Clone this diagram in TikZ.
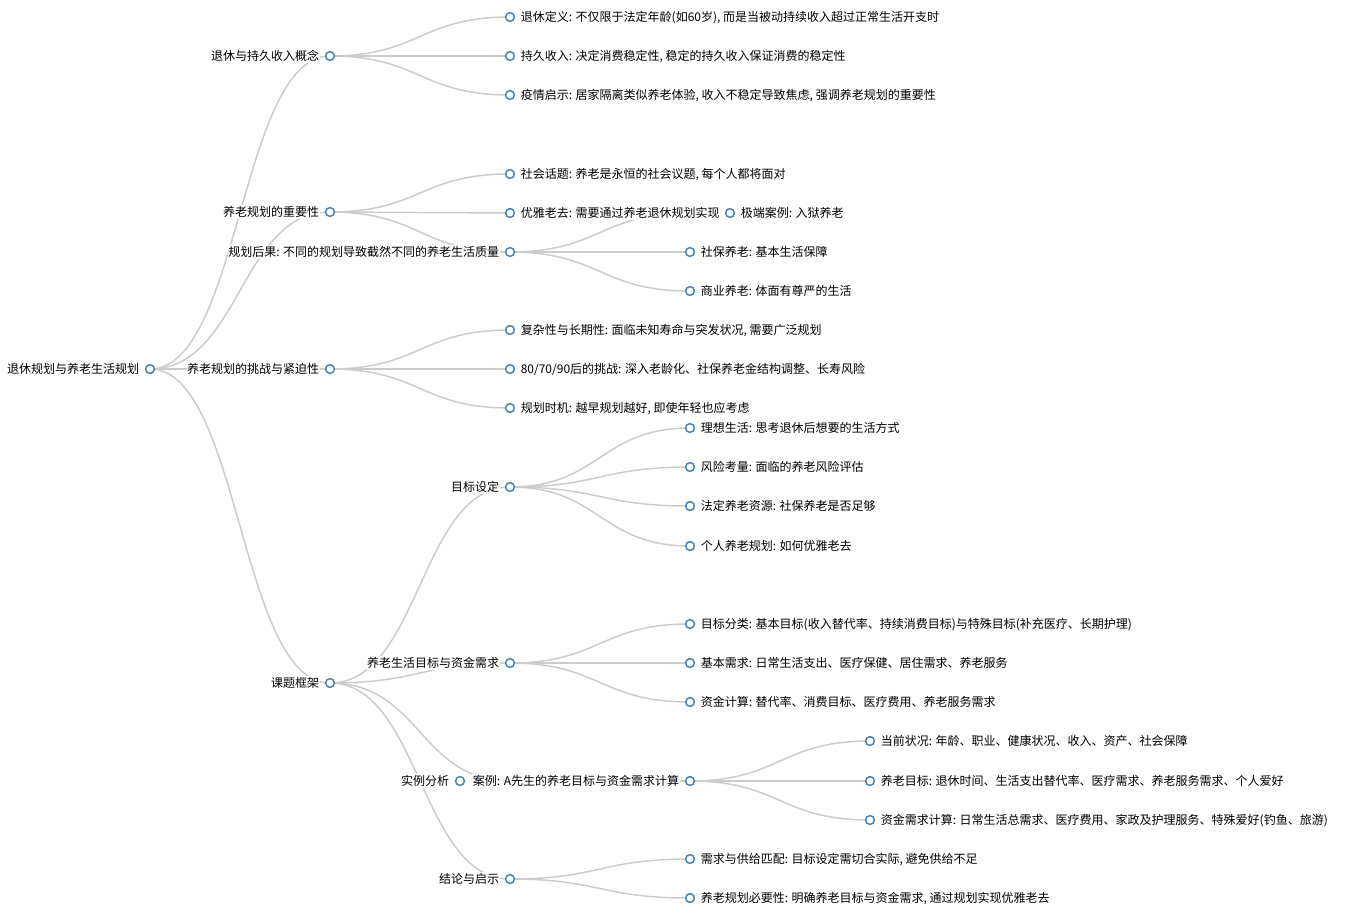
\documentclass[tikz,border=0pt]{standalone}
\usepackage{fontspec}
\setmainfont{Noto Sans CJK SC}
\usetikzlibrary{backgrounds,calc}
\definecolor{dotblue}{HTML}{4682B4}
\definecolor{linkgray}{HTML}{CCCCCC}
\tikzset{
  dot/.style={circle, draw=dotblue, fill=white, line width=1.1pt, minimum size=6.6pt, inner sep=0pt},
  lbl/.style={font=\fontsize{9pt}{9pt}\selectfont, fill=white, inner sep=0.4pt, text height=7.9pt, text depth=1.1pt},
  lr/.style={lbl, anchor=west, xshift=7.5pt},
  ll/.style={lbl, anchor=east, xshift=-7.5pt},
  link/.style={draw=linkgray, line width=1.1pt}
}
\newcommand\lnk[2]{\draw[link] let \p1=(#1), \p2=(#2) in (\p1) .. controls ({0.5*\x1+0.5*\x2},\y1) and ({0.5*\x1+0.5*\x2},\y2) .. (\p2);}
\begin{document}
\begin{tikzpicture}[x=0.75pt,y=-0.75pt]
\useasboundingbox (0,0) rectangle (1364,918);
% root and level 1
\node[dot] (R) at (150,369) {}; \node[ll] (Rt) at (R) {退休规划与养老生活规划};
\node[dot] (A) at (330,56) {};  \node[ll] (At) at (A) {退休与持久收入概念};
\node[dot] (B) at (330,212) {}; \node[ll] (Bt) at (B) {养老规划的重要性};
\node[dot] (C) at (330,369) {}; \node[ll] (Ct) at (C) {养老规划的挑战与紧迫性};
\node[dot] (D) at (330,683) {}; \node[ll] (Dt) at (D) {课题框架};
% A children
\node[dot] (A1) at (510,17) {}; \node[lr] (A1t) at (A1) {退休定义: 不仅限于法定年龄(如60岁), 而是当被动持续收入超过正常生活开支时};
\node[dot] (A2) at (510,56) {}; \node[lr] (A2t) at (A2) {持久收入: 决定消费稳定性, 稳定的持久收入保证消费的稳定性};
\node[dot] (A3) at (510,95) {}; \node[lr] (A3t) at (A3) {疫情启示: 居家隔离类似养老体验, 收入不稳定导致焦虑, 强调养老规划的重要性};
% B children
\node[dot] (B1) at (510,174) {}; \node[lr] (B1t) at (B1) {社会话题: 养老是永恒的社会议题, 每个人都将面对};
\node[dot] (B2) at (510,213) {}; \node[lr] (B2t) at (B2) {优雅老去: 需要通过养老退休规划实现};
\node[dot] (B3) at (510,252) {}; \node[ll] (B3t) at (B3) {规划后果: 不同的规划导致截然不同的养老生活质量};
\coordinate (B3aL) at (690,213);
\node[dot] (B3a) at (730,213) {}; \node[lr] (B3at) at (B3a) {极端案例: 入狱养老};
\node[dot] (B3b) at (690,252) {}; \node[lr] (B3bt) at (B3b) {社保养老: 基本生活保障};
\node[dot] (B3c) at (690,291) {}; \node[lr] (B3ct) at (B3c) {商业养老: 体面有尊严的生活};
% C children
\node[dot] (C1) at (510,330) {}; \node[lr] (C1t) at (C1) {复杂性与长期性: 面临未知寿命与突发状况, 需要广泛规划};
\node[dot] (C2) at (510,369) {}; \node[lr] (C2t) at (C2) {80/70/90后的挑战: 深入老龄化、社保养老金结构调整、长寿风险};
\node[dot] (C3) at (510,408) {}; \node[lr] (C3t) at (C3) {规划时机: 越早规划越好, 即使年轻也应考虑};
% D children
\node[dot] (D1) at (510,487) {}; \node[ll] (D1t) at (D1) {目标设定};
\node[dot] (D1a) at (690,428) {}; \node[lr] (D1at) at (D1a) {理想生活: 思考退休后想要的生活方式};
\node[dot] (D1b) at (690,467) {}; \node[lr] (D1bt) at (D1b) {风险考量: 面临的养老风险评估};
\node[dot] (D1c) at (690,506) {}; \node[lr] (D1ct) at (D1c) {法定养老资源: 社保养老是否足够};
\node[dot] (D1d) at (690,546) {}; \node[lr] (D1dt) at (D1d) {个人养老规划: 如何优雅老去};
\node[dot] (D2) at (510,663) {}; \node[ll] (D2t) at (D2) {养老生活目标与资金需求};
\node[dot] (D2a) at (690,624) {}; \node[lr] (D2at) at (D2a) {目标分类: 基本目标(收入替代率、持续消费目标)与特殊目标(补充医疗、长期护理)};
\node[dot] (D2b) at (690,663) {}; \node[lr] (D2bt) at (D2b) {基本需求: 日常生活支出、医疗保健、居住需求、养老服务};
\node[dot] (D2c) at (690,702) {}; \node[lr] (D2ct) at (D2c) {资金计算: 替代率、消费目标、医疗费用、养老服务需求};
\coordinate (D3L) at (510,781);
\node[dot] (D3) at (460,781) {}; \node[ll] (D3t) at (D3) {实例分析};
\node[dot] (D3a) at (690,781) {}; \node[ll] (D3at) at (D3a) {案例: A先生的养老目标与资金需求计算};
\node[dot] (D3a1) at (870,741) {}; \node[lr] (D3a1t) at (D3a1) {当前状况: 年龄、职业、健康状况、收入、资产、社会保障};
\node[dot] (D3a2) at (870,781) {}; \node[lr] (D3a2t) at (D3a2) {养老目标: 退休时间、生活支出替代率、医疗需求、养老服务需求、个人爱好};
\node[dot] (D3a3) at (870,820) {}; \node[lr] (D3a3t) at (D3a3) {资金需求计算: 日常生活总需求、医疗费用、家政及护理服务、特殊爱好(钓鱼、旅游)};
\node[dot] (D4) at (510,879) {}; \node[ll] (D4t) at (D4) {结论与启示};
\node[dot] (D4a) at (690,859) {}; \node[lr] (D4at) at (D4a) {需求与供给匹配: 目标设定需切合实际, 避免供给不足};
\node[dot] (D4b) at (690,898) {}; \node[lr] (D4bt) at (D4b) {养老规划必要性: 明确养老目标与资金需求, 通过规划实现优雅老去};
% links
\begin{scope}[on background layer]
\lnk{R}{A}\lnk{R}{B}\lnk{R}{C}\lnk{R}{D}
\lnk{A}{A1}\lnk{A}{A2}\lnk{A}{A3}
\lnk{B}{B1}\lnk{B}{B2}\lnk{B}{B3}
\lnk{B3}{B3aL}\lnk{B3}{B3b}\lnk{B3}{B3c}
\lnk{C}{C1}\lnk{C}{C2}\lnk{C}{C3}
\lnk{D}{D1}\lnk{D}{D2}\lnk{D}{D3L}\lnk{D}{D4}
\lnk{D1}{D1a}\lnk{D1}{D1b}\lnk{D1}{D1c}\lnk{D1}{D1d}
\lnk{D2}{D2a}\lnk{D2}{D2b}\lnk{D2}{D2c}
\lnk{D3L}{D3a}
\lnk{D3a}{D3a1}\lnk{D3a}{D3a2}\lnk{D3a}{D3a3}
\lnk{D4}{D4a}\lnk{D4}{D4b}
\end{scope}
\end{tikzpicture}
\end{document}
